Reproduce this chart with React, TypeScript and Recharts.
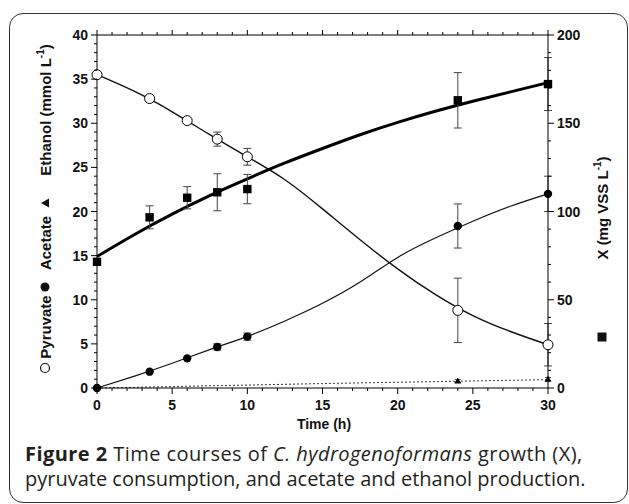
import React from "react";
import {
  ComposedChart,
  Line,
  Scatter,
  XAxis,
  YAxis,
  ErrorBar,
} from "recharts";

// ---- measured data ----
const timePoints = [0, 3.5, 6, 8, 10, 24, 30];
const pyruvate = [35.5, 32.8, 30.3, 28.2, 26.2, 8.8, 4.9];
const pyruvateErr = [0, 0, 0, 0.8, 0.95, 3.65, 2.4];
const acetate = [0, 1.85, 3.36, 4.65, 5.82, 18.36, 22.0];
const acetateErr = [0, 0, 0, 0.35, 0.4, 2.5, 2.0];
const ethanolTimes = [24, 30];
const ethanol = [0.8, 1.0];
const ethanolErr = [0.15, 0.2];
const biomass = [71.5, 96.7, 107.8, 110.9, 112.7, 163, 172.2];
const biomassErr = [0, 6.5, 6.3, 10.5, 8.3, 15.7, 15];

// ---- fitted model curves ----
const fitTimes = [0, 2.5, 5, 7.5, 10, 12.5, 15, 17.5, 20, 22.5, 25, 27.5, 30];
const pyruvateFit = [35.5, 33.6, 31.3, 28.7, 26.2, 23.6, 20.3, 16.8, 13.5, 10.6, 8.2, 6.4, 4.9];
const acetateFit = [0, 1.35, 2.8, 4.35, 5.85, 7.6, 9.6, 12.0, 14.8, 17.0, 18.9, 20.6, 22.0];
const ethanolFit = [0, 0.08, 0.16, 0.25, 0.33, 0.42, 0.5, 0.58, 0.65, 0.72, 0.8, 0.87, 0.95];
const biomassFit = [74.5, 87.0, 98.5, 109.0, 118.5, 127.5, 135.7, 143.5, 150.5, 156.8, 162.5, 167.8, 173];

// ---- ticks ----
const xTicks = Array.from({ length: 31 }, (_, i) => i);
const leftTicks = Array.from({ length: 41 }, (_, i) => i);
const rightTicks = Array.from({ length: 21 }, (_, i) => i * 10);

const fitData = fitTimes.map((t, i) => ({
  t,
  pyr: pyruvateFit[i],
  ace: acetateFit[i],
  eth: ethanolFit[i],
  bio: biomassFit[i],
}));
const pyrPts = timePoints.map((t, i) => ({ t, y: pyruvate[i], e: pyruvateErr[i] }));
const acePts = timePoints.map((t, i) => ({ t, y: acetate[i], e: acetateErr[i] }));
const ethPts = ethanolTimes.map((t, i) => ({ t, y: ethanol[i], e: ethanolErr[i] }));
const bioPts = timePoints.map((t, i) => ({ t, y: biomass[i], e: biomassErr[i] }));

const FONT = "'Liberation Sans', Arial, sans-serif";

const BottomTick = (props: any) => {
  const { x, y, payload } = props;
  const v = payload.value;
  const major = v % 5 === 0;
  return (
    <g>
      <line x1={x} x2={x} y1={y} y2={y + (major ? 6 : 3)} stroke="#000" strokeWidth={1} />
      {major && (
        <text x={x} y={y + 22} textAnchor="middle" fontFamily={FONT} fontWeight="bold" fontSize={14} fill="#111">
          {v}
        </text>
      )}
    </g>
  );
};

const TopTick = (props: any) => {
  const { x, y, payload } = props;
  const major = payload.value % 5 === 0;
  return <line x1={x} x2={x} y1={y} y2={y - (major ? 5 : 3)} stroke="#000" strokeWidth={1} />;
};

const LeftTick = (props: any) => {
  const { x, y, payload } = props;
  const v = payload.value;
  const major = v % 5 === 0;
  return (
    <g>
      <line x1={x - (major ? 6 : 3)} x2={x} y1={y} y2={y} stroke="#000" strokeWidth={1} />
      {major && (
        <text x={x - 9} y={y + 5} textAnchor="end" fontFamily={FONT} fontWeight="bold" fontSize={14} fill="#111">
          {v}
        </text>
      )}
    </g>
  );
};

const RightTick = (props: any) => {
  const { x, y, payload } = props;
  const v = payload.value;
  const major = v % 50 === 0;
  return (
    <g>
      <line x1={x} x2={x + (major ? 6 : 3)} y1={y} y2={y} stroke="#000" strokeWidth={1} />
      {major && (
        <text x={x + 9} y={y + 5} textAnchor="start" fontFamily={FONT} fontWeight="bold" fontSize={14} fill="#111">
          {v}
        </text>
      )}
    </g>
  );
};

const OpenCircle = (p: any) => (
  <circle cx={p.cx} cy={p.cy} r={5} fill="#fff" stroke="#000" strokeWidth={1} />
);
const FilledCircle = (p: any) => <circle cx={p.cx} cy={p.cy} r={4.2} fill="#000" />;
const Square = (p: any) => <rect x={p.cx - 4.2} y={p.cy - 4.2} width={8.4} height={8.4} fill="#000" />;
const Triangle = (p: any) => (
  <path d={`M${p.cx},${p.cy - 3.5} L${p.cx + 3.5},${p.cy + 2.5} L${p.cx - 3.5},${p.cy + 2.5} Z`} fill="#000" />
);

export default function App() {
  return (
    <div style={{ position: "absolute", left: 0, top: 0, width: 629, height: 504, background: "#fff" }}>
      <div
        style={{
          position: "absolute",
          left: 9,
          top: 13,
          width: 617,
          height: 488,
          border: "1.5px solid #333",
          borderRadius: 14,
        }}
      />
      <div style={{ position: "absolute", left: 0, top: 0 }}>
        <ComposedChart
          width={629}
          height={504}
          data={fitData}
          margin={{ top: 25, right: 21, bottom: 76, left: 37 }}
        >
          <XAxis
            dataKey="t"
            type="number"
            domain={[0, 30]}
            ticks={xTicks}
            interval={0}
            tickSize={0}
            tickMargin={0}
            tick={<BottomTick />}
            axisLine={{ stroke: "#000", strokeWidth: 1 }}
            height={40}
          />
          <XAxis
            xAxisId="top"
            orientation="top"
            dataKey="t"
            type="number"
            domain={[0, 30]}
            ticks={xTicks}
            interval={0}
            tickSize={0}
            tickMargin={0}
            tick={<TopTick />}
            axisLine={{ stroke: "#000", strokeWidth: 1 }}
            height={10}
          />
          <YAxis
            yAxisId="left"
            type="number"
            domain={[0, 40]}
            ticks={leftTicks}
            interval={0}
            tickSize={0}
            tickMargin={0}
            tick={<LeftTick />}
            axisLine={{ stroke: "#000", strokeWidth: 1 }}
            width={60}
          />
          <YAxis
            yAxisId="right"
            orientation="right"
            type="number"
            domain={[0, 200]}
            ticks={rightTicks}
            interval={0}
            tickSize={0}
            tickMargin={0}
            tick={<RightTick />}
            axisLine={{ stroke: "#000", strokeWidth: 1 }}
            width={60}
          />
          <Line yAxisId="left" dataKey="eth" type="natural" stroke="#333" strokeWidth={1} strokeDasharray="2 2" dot={false} isAnimationActive={false} />
          <Line yAxisId="left" dataKey="pyr" type="natural" stroke="#111" strokeWidth={1.4} dot={false} isAnimationActive={false} />
          <Line yAxisId="left" dataKey="ace" type="natural" stroke="#111" strokeWidth={1.2} dot={false} isAnimationActive={false} />
          <Line yAxisId="right" dataKey="bio" type="natural" stroke="#000" strokeWidth={3} dot={false} isAnimationActive={false} />
          <Scatter yAxisId="left" data={ethPts} dataKey="y" shape={Triangle} isAnimationActive={false}>
            <ErrorBar dataKey="e" direction="y" width={3} stroke="#444" strokeWidth={1} />
          </Scatter>
          <Scatter yAxisId="left" data={acePts} dataKey="y" shape={FilledCircle} isAnimationActive={false}>
            <ErrorBar dataKey="e" direction="y" width={4} stroke="#444" strokeWidth={1} />
          </Scatter>
          <Scatter yAxisId="left" data={pyrPts} dataKey="y" shape={OpenCircle} isAnimationActive={false}>
            <ErrorBar dataKey="e" direction="y" width={4} stroke="#444" strokeWidth={1} />
          </Scatter>
          <Scatter yAxisId="right" data={bioPts} dataKey="y" shape={Square} isAnimationActive={false}>
            <ErrorBar dataKey="e" direction="y" width={4} stroke="#444" strokeWidth={1} />
          </Scatter>
        </ComposedChart>
      </div>
      <svg
        width={629}
        height={504}
        style={{ position: "absolute", left: 0, top: 0, pointerEvents: "none" }}
        fontFamily={FONT}
        fontWeight="bold"
        fontSize={15}
        fill="#111"
      >
        {/* left axis title */}
        <circle cx={45} cy={368} r={4.5} fill="#fff" stroke="#111" strokeWidth={1.2} />
        <text x={45} y={327} transform="rotate(-90 45 327)" textAnchor="middle" dominantBaseline="central">
          Pyruvate
        </text>
        <circle cx={45} cy={287} r={4.5} fill="#111" />
        <text x={45} y={243} transform="rotate(-90 45 243)" textAnchor="middle" dominantBaseline="central">
          Acetate
        </text>
        <path d="M41,203 L49,198.5 L49,207.5 Z" fill="#111" />
        <text x={45} y={110} transform="rotate(-90 45 110)" textAnchor="middle" dominantBaseline="central">
          Ethanol (mmol L
          <tspan fontSize={10} dy={-5}>-1</tspan>
          <tspan dy={5}>)</tspan>
        </text>
        {/* right axis title */}
        <text x={602} y={208} transform="rotate(-90 602 208)" textAnchor="middle" dominantBaseline="central">
          X (mg VSS L
          <tspan fontSize={10} dy={-5}>-1</tspan>
          <tspan dy={5}>)</tspan>
        </text>
        <rect x={597.5} y={332.5} width={9} height={9} fill="#111" />
        {/* x axis title */}
        <text x={324} y={429} textAnchor="middle" fontSize={14}>
          Time (h)
        </text>
      </svg>
      <div
        style={{
          position: "absolute",
          left: 25,
          top: 441,
          width: 600,
          fontFamily: "'Open Sans', 'Noto Sans', sans-serif",
          fontSize: 20,
          lineHeight: "25px",
          color: "#231f20",
          whiteSpace: "nowrap",
        }}
      >
        <div style={{ letterSpacing: 0.45 }}>
          <span style={{ fontWeight: "bold" }}>Figure 2</span> Time courses of <i>C. hydrogenoformans</i> growth (X),
        </div>
        <div>pyruvate consumption, and acetate and ethanol production.</div>
      </div>
    </div>
  );
}
